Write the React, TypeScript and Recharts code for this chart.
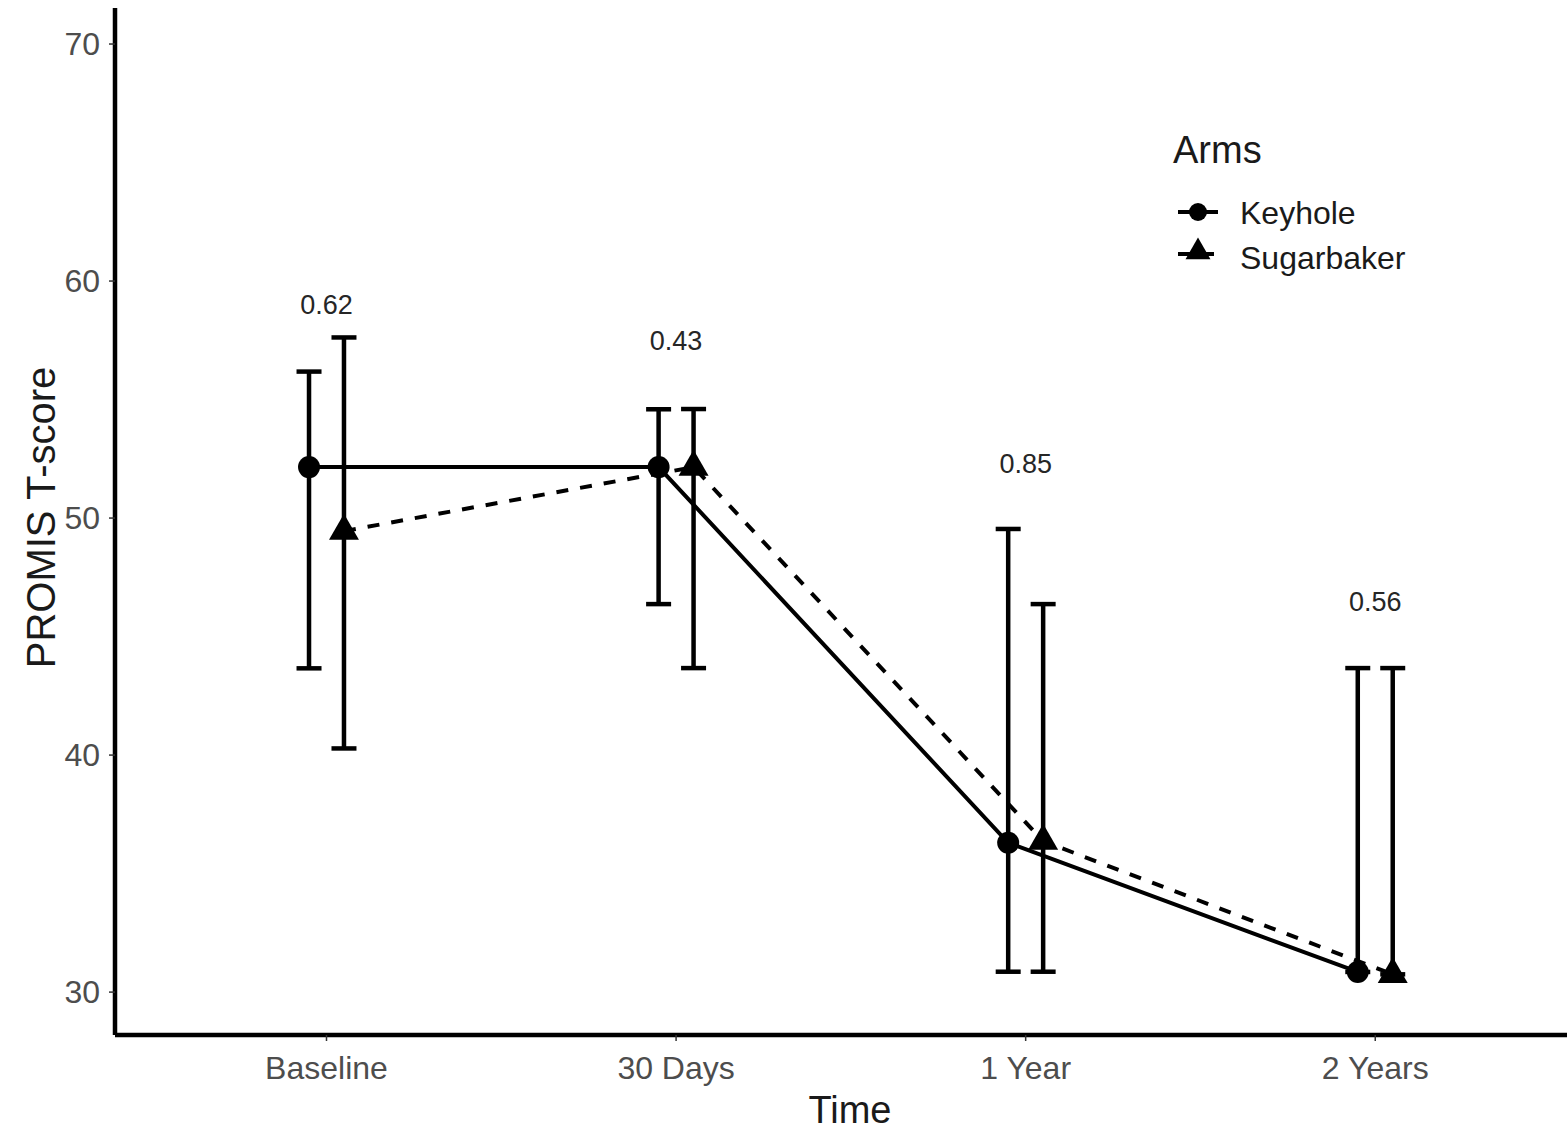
import { ComposedChart, Scatter, XAxis, YAxis, ErrorBar, Legend } from 'recharts';

// PROMIS T-score by arm over time (mean with CI)
const timePoints = ['Baseline', '30 Days', '1 Year', '2 Years'];

const keyholeMean = [52.15, 52.15, 36.3, 30.85];
const keyholeLower = [43.66, 46.37, 30.86, 30.85];
const keyholeUpper = [56.18, 54.59, 49.54, 43.67];

const sugarbakerMean = [49.45, 52.15, 36.37, 30.75];
const sugarbakerLower = [40.28, 43.67, 30.86, 30.75];
const sugarbakerUpper = [57.62, 54.6, 46.37, 43.67];

const pValues = ['0.62', '0.43', '0.85', '0.56'];
const pValueY = [59.0, 57.47, 52.28, 46.46];

const yTicks = [30, 40, 50, 60, 70];
const xTicks = [1, 2, 3, 4];
const dodge = 0.05;

const FONT = '"Liberation Sans", Arial, Helvetica, sans-serif';

function buildRows(mean: number[], lower: number[], upper: number[], shift: number) {
  return mean.map((m, i) => ({
    x: i + 1 + shift,
    y: m,
    err: [m - lower[i], upper[i] - m],
  }));
}

const keyholeRows = buildRows(keyholeMean, keyholeLower, keyholeUpper, -dodge);
const sugarbakerRows = buildRows(sugarbakerMean, sugarbakerLower, sugarbakerUpper, dodge);
const pValueRows = pValues.map((p, i) => ({ x: i + 1, y: pValueY[i], label: p }));

function CircleShape(props: any) {
  if (props.cx == null || props.cy == null) return null;
  return <circle cx={props.cx} cy={props.cy} r={11} fill="#000" />;
}

function triPoints(cx: number, cy: number, r: number) {
  const h = 0.866 * r;
  return `${cx},${cy - r} ${cx - h},${cy + r / 2} ${cx + h},${cy + r / 2}`;
}

function TriangleShape(props: any) {
  if (props.cx == null || props.cy == null) return null;
  return <polygon points={triPoints(props.cx, props.cy, 17.3)} fill="#000" />;
}

function PValueText(props: any) {
  if (props.cx == null || props.cy == null) return null;
  return (
    <text
      x={props.cx}
      y={props.cy}
      textAnchor="middle"
      dominantBaseline="central"
      fontFamily={FONT}
      fontSize={27}
      fill="#262626"
    >
      {props.payload?.label}
    </text>
  );
}

function LegendBox() {
  return (
    <svg width={300} height={170} style={{ display: 'block' }}>
      <text x={13} y={43} fontFamily={FONT} fontSize={38} fill="#1a1a1a">
        Arms
      </text>
      <line x1={18} x2={58} y1={92} y2={92} stroke="#000" strokeWidth={4} />
      <circle cx={38} cy={92} r={9} fill="#000" />
      <text x={80} y={104} fontFamily={FONT} fontSize={32} fill="#1a1a1a">
        Keyhole
      </text>
      <line x1={18} x2={58} y1={134} y2={134} stroke="#000" strokeWidth={4} strokeDasharray="12 12" />
      <polygon points={triPoints(38, 132, 14.4)} fill="#000" />
      <text x={80} y={149} fontFamily={FONT} fontSize={32} fill="#1a1a1a">
        Sugarbaker
      </text>
    </svg>
  );
}

function XTitle(props: any) {
  const vb = props.viewBox || { x: 115, y: 1035, width: 1470, height: 95 };
  return (
    <text x={vb.x + vb.width / 2} y={vb.y + 88} textAnchor="middle" fontFamily={FONT} fontSize={38} fill="#1a1a1a">
      Time
    </text>
  );
}

function YTitle(props: any) {
  const vb = props.viewBox || { x: 0, y: 8, width: 115, height: 1027 };
  const cx = vb.x + 55;
  const cy = vb.y + vb.height / 2 - 4;
  return (
    <text
      x={cx}
      y={cy}
      transform={`rotate(-90, ${cx}, ${cy})`}
      textAnchor="middle"
      fontFamily={FONT}
      fontSize={40}
      fill="#1a1a1a"
    >
      PROMIS T-score
    </text>
  );
}

export default function App() {
  return (
    <div
      style={{
        position: 'absolute',
        left: 0,
        top: 0,
        width: 1567,
        height: 1130,
        overflow: 'hidden',
        background: '#fff',
        fontFamily: FONT,
      }}
    >
      <ComposedChart width={1585} height={1130} margin={{ top: 8, right: 0, bottom: 0, left: 0 }}>
        <XAxis
          dataKey="x"
          type="number"
          domain={[0.395, 4.6]}
          allowDataOverflow
          ticks={xTicks}
          interval={0}
          tickFormatter={(v: number) => timePoints[Math.round(v) - 1] ?? ''}
          height={95}
          tickSize={6}
          tickMargin={15}
          tick={{ fill: '#4d4d4d', fontSize: 32, fontFamily: FONT }}
          tickLine={{ stroke: '#333', strokeWidth: 1.5 }}
          axisLine={{ stroke: '#000', strokeWidth: 4.5 }}
          label={XTitle}
        />
        <YAxis
          dataKey="y"
          type="number"
          domain={[28.19, 71.52]}
          allowDataOverflow
          ticks={yTicks}
          interval={0}
          width={115}
          tickSize={6}
          tickMargin={9}
          tick={{ fill: '#4d4d4d', fontSize: 32, fontFamily: FONT }}
          tickLine={{ stroke: '#333', strokeWidth: 1.5 }}
          axisLine={{ stroke: '#000', strokeWidth: 4.5 }}
          label={YTitle}
        />
        <Legend
          layout="horizontal"
          verticalAlign="middle"
          align="center"
          content={() => <LegendBox />}
          wrapperStyle={{ left: 1160, top: 120, width: 300, height: 170 }}
        />
        <Scatter
          name="Keyhole"
          data={keyholeRows}
          line={{ stroke: '#000', strokeWidth: 4 }}
          shape={CircleShape}
          isAnimationActive={false}
        >
          <ErrorBar dataKey="err" direction="y" width={12.5} stroke="#000" strokeWidth={4.5} isAnimationActive={false} />
        </Scatter>
        <Scatter
          name="Sugarbaker"
          data={sugarbakerRows}
          line={{ stroke: '#000', strokeWidth: 4, strokeDasharray: '12 12' }}
          shape={TriangleShape}
          isAnimationActive={false}
        >
          <ErrorBar dataKey="err" direction="y" width={12.5} stroke="#000" strokeWidth={4.5} isAnimationActive={false} />
        </Scatter>
        <Scatter
          name="p"
          data={pValueRows}
          shape={PValueText}
          legendType="none"
          isAnimationActive={false}
        />
      </ComposedChart>
    </div>
  );
}
